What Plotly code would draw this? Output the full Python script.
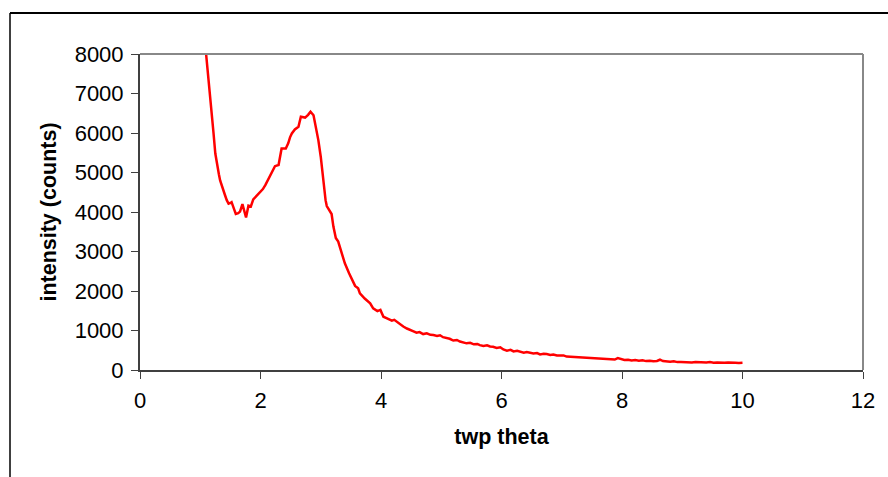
import plotly.graph_objects as go

two_theta = [1.06, 1.10, 1.15, 1.19, 1.22, 1.25, 1.28, 1.31, 1.33, 1.37, 1.41, 1.44, 1.47, 1.50, 1.52,
             1.56, 1.59, 1.63, 1.66, 1.70, 1.73, 1.76, 1.80, 1.84, 1.88, 1.92, 1.96, 2.00, 2.04, 2.08,
             2.11, 2.16, 2.20, 2.24, 2.30, 2.33, 2.35, 2.42, 2.46, 2.49, 2.52, 2.57, 2.63, 2.67, 2.74,
             2.79, 2.83, 2.88, 2.92, 2.96, 3.00, 3.04, 3.08, 3.10, 3.14, 3.18, 3.21, 3.25, 3.29, 3.35,
             3.40, 3.47, 3.53, 3.57, 3.62, 3.65, 3.73, 3.82, 3.87, 3.94, 3.99, 4.04, 4.10, 4.14, 4.18,
             4.22, 4.26, 4.32, 4.37, 4.43, 4.48, 4.54, 4.59, 4.64, 4.70, 4.76, 4.82, 4.87, 4.93, 4.98,
             5.03, 5.09, 5.14, 5.20, 5.26, 5.31, 5.37, 5.42, 5.48, 5.54, 5.60, 5.64, 5.70, 5.76, 5.81,
             5.86, 5.92, 5.98, 6.03, 6.09, 6.15, 6.20, 6.26, 6.31, 6.37, 6.42, 6.48, 6.53, 6.59, 6.64,
             6.70, 6.75, 6.81, 6.86, 6.92, 6.97, 7.03, 7.08, 7.14, 7.19, 7.25, 7.30, 7.36, 7.41, 7.47,
             7.52, 7.58, 7.63, 7.70, 7.76, 7.82, 7.88, 7.93, 7.98, 8.04, 8.10, 8.16, 8.22, 8.28, 8.34,
             8.40, 8.46, 8.52, 8.58, 8.63, 8.68, 8.74, 8.80, 8.86, 8.92, 8.98, 9.04, 9.10, 9.16, 9.22,
             9.28, 9.34, 9.40, 9.46, 9.52, 9.58, 9.64, 9.70, 9.76, 9.82, 9.88, 9.94, 10.00]

intensity = [8600, 7950, 7170, 6670, 6000, 5480, 5150, 4950, 4800, 4640, 4430, 4300, 4210, 4230, 4250,
             4080, 3950, 3970, 4010, 4200, 4020, 3860, 4160, 4140, 4320, 4390, 4460, 4510, 4580, 4680,
             4770, 4900, 5020, 5160, 5190, 5420, 5610, 5610, 5740, 5890, 5990, 6090, 6160, 6410, 6390,
             6460, 6540, 6450, 6160, 5820, 5400, 4810, 4300, 4150, 4050, 3950, 3630, 3340, 3250, 2950,
             2700, 2450, 2280, 2130, 2070, 1940, 1810, 1690, 1560, 1490, 1520, 1350, 1310, 1280, 1250,
             1270, 1220, 1160, 1100, 1050, 1010, 980, 945, 960, 910, 930, 890, 885, 860, 880,
             830, 810, 790, 745, 760, 720, 700, 675, 690, 650, 660, 630, 610, 625, 595,
             590, 560, 575, 520, 490, 510, 470, 485, 465, 440, 455, 425, 420, 430, 395,
             410, 405, 380, 390, 365, 360, 370, 340, 335, 320, 330, 310, 320, 310, 295,
             300, 285, 280, 290, 270, 275, 265, 300, 280, 255, 260, 240, 250, 235, 245,
             225, 235, 220, 230, 260, 225, 215, 210, 220, 200, 205, 195, 200, 190, 205,
             195, 185, 190, 200, 185, 190, 180, 185, 190, 180, 185, 180, 185]

x_ticks = [0, 2, 4, 6, 8, 10, 12]
y_ticks = [0, 1000, 2000, 3000, 4000, 5000, 6000, 7000, 8000]
x_title = "twp theta"
y_title = "intensity (counts)"

FONT = "Liberation Sans, Arial, sans-serif"

fig = go.Figure()
fig.add_trace(go.Scatter(x=two_theta, y=intensity, mode="lines",
                         line=dict(color="#FF0000", width=2.5), showlegend=False))

axis_common = dict(showgrid=False, zeroline=False, showline=True, linecolor="#404040", linewidth=2,
                   ticks="outside", ticklen=7, tickwidth=1, tickcolor="#404040",
                   tickfont=dict(family=FONT, size=22, color="black"))

fig.update_xaxes(range=[0, 12], tickvals=x_ticks, ticktext=[str(v) for v in x_ticks],
                 ticklabelstandoff=3,
                 title=dict(text="<b>%s</b>" % x_title, font=dict(family=FONT, size=21.5, color="black"),
                            standoff=17), **axis_common)
fig.update_yaxes(range=[0, 8000], tickvals=y_ticks, ticktext=[str(v) for v in y_ticks],
                 ticklabelstandoff=3,
                 title=dict(text="<b>%s</b>" % y_title, font=dict(family=FONT, size=21.5, color="black"),
                            standoff=12), **axis_common)

L, R, T, B = 140, 25, 54, 107
W, H = 888, 477
pw, ph = W - L - R, H - T - B

shapes = [
    # plot area top and right borders (gray)
    dict(type="line", xref="paper", yref="paper", x0=0, x1=1, y0=1, y1=1,
         line=dict(color="#888888", width=2)),
    dict(type="line", xref="paper", yref="paper", x0=1, x1=1, y0=0, y1=1,
         line=dict(color="#888888", width=2)),
    # outer chart frame (top and left visible)
    dict(type="line", xref="paper", yref="paper", x0=(10 - L) / pw, x1=(W + 20 - L) / pw,
         y0=1 + (T - 13) / ph, y1=1 + (T - 13) / ph, line=dict(color="black", width=2)),
    dict(type="line", xref="paper", yref="paper", x0=(10 - L) / pw, x1=(10 - L) / pw,
         y0=1 + (T - 13) / ph, y1=-(B + 20) / ph, line=dict(color="black", width=1.5)),
]

fig.update_layout(width=W, height=H, margin=dict(l=L, r=R, t=T, b=B, pad=0),
                  paper_bgcolor="white", plot_bgcolor="white", shapes=shapes,
                  font=dict(family=FONT, color="black"))

fig.write_html("out.html")
